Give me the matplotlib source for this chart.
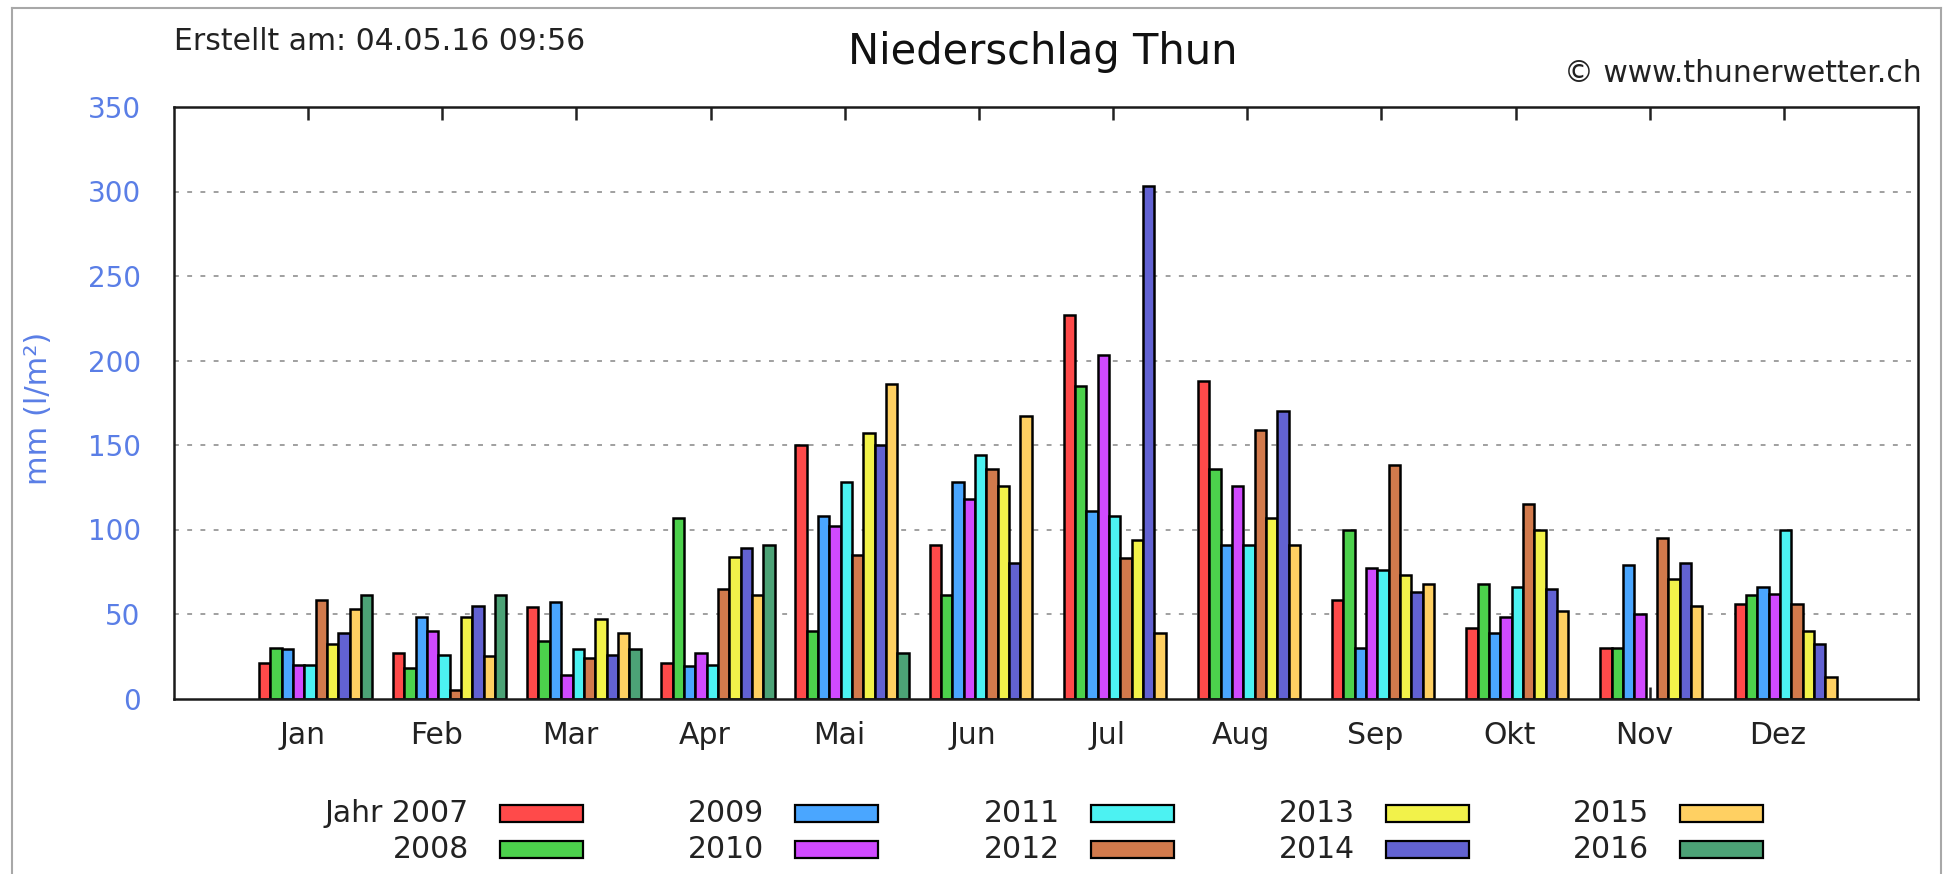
import numpy as np
import matplotlib
matplotlib.use("Agg")
import matplotlib.pyplot as plt
from matplotlib.patches import Rectangle
from matplotlib.lines import Line2D
from matplotlib.transforms import ScaledTranslation

nan = np.nan

months = ['Jan', 'Feb', 'Mar', 'Apr', 'Mai', 'Jun', 'Jul', 'Aug', 'Sep', 'Okt', 'Nov', 'Dez']
years = ['2007', '2008', '2009', '2010', '2011', '2012', '2013', '2014', '2015', '2016']

# monthly precipitation in mm, one list per year
y2007 = [21, 27, 54, 21, 150, 91, 227, 188, 58, 42, 30, 56]
y2008 = [30, 18, 34, 107, 40, 61, 185, 136, 100, 68, 30, 61]
y2009 = [29, 48, 57, 19, 108, 128, 111, 91, 30, 39, 79, 66]
y2010 = [20, 40, 14, 27, 102, 118, 203, 126, 77, 48, 50, 62]
y2011 = [20, 26, 29, 20, 128, 144, 108, 91, 76, 66, nan, 100]
y2012 = [58, 5, 24, 65, 85, 136, 83, 159, 138, 115, 95, 56]
y2013 = [32, 48, 47, 84, 157, 126, 94, 107, 73, 100, 71, 40]
y2014 = [39, 55, 26, 89, 150, 80, 303, 170, 63, 65, 80, 32]
y2015 = [53, 25, 39, 61, 186, 167, 39, 91, 68, 52, 55, 13]
y2016 = [61, 61, 29, 91, 27, nan, nan, nan, nan, nan, nan, nan]

series = [y2007, y2008, y2009, y2010, y2011, y2012, y2013, y2014, y2015, y2016]
colors = ['#ff4a4a', '#4cd14c', '#4aa6ff', '#d04aff', '#4cf2f2',
          '#d27a4c', '#f2f24a', '#6262d2', '#ffd062', '#4ca276']

W, H = 1946, 874
fig = plt.figure(figsize=(W / 100, H / 100), dpi=100)
plt.rcParams['font.family'] = ['DejaVu Sans']

# axes box in pixels: left 174, right 1918, top 107, bottom 698
ax = fig.add_axes([174 / W, 1 - 698.5 / H, 1744 / W, 591.5 / H])

bw = 0.0845
x = np.arange(1, 13)
for i, (vals, c) in enumerate(zip(series, colors)):
    ax.bar(x + 0.055 + (i - 4.5) * bw, vals, width=bw, color=c,
           edgecolor='black', linewidth=1.8, zorder=3)

ax.set_xlim(0, 13)
ax.set_ylim(0, 350)
ax.set_xticks(x)
ax.set_xticklabels(months)
ax.set_yticks(np.arange(0, 351, 50))

blue = '#5a7ee6'
ax.tick_params(axis='x', direction='in', length=9, width=1.8, top=True,
               labelsize=21.5, pad=16, colors='#222222')
ax.tick_params(axis='y', length=0, labelsize=20, pad=24, labelcolor=blue)
shift = ScaledTranslation(-6 / 100, 0, fig.dpi_scale_trans)
for lab in ax.get_xticklabels():
    lab.set_transform(lab.get_transform() + shift)

ax.set_ylabel('mm (l/m²)', fontsize=22, color=blue)
ax.yaxis.set_label_coords((53 - 174) / 1744, 0.49)

for yv in range(50, 350, 50):
    ax.axhline(yv, color='#a0a0a0', linewidth=1.4, dashes=(2.5, 4.3), zorder=1)

for sp in ax.spines.values():
    sp.set_linewidth(1.8)
    sp.set_color('#1a1a1a')
    sp.set_zorder(5)

# header texts
fig.text(174 / W, 1 - 50 / H, 'Erstellt am: 04.05.16 09:56', fontsize=21.5,
         ha='left', va='baseline', color='#222222')
fig.text(1043 / W, 1 - 64 / H, 'Niederschlag Thun', fontsize=30,
         ha='center', va='baseline', color='#111111')
fig.text(1922 / W, 1 - 82 / H, '© www.thunerwetter.ch', fontsize=21.5,
         ha='right', va='baseline', color='#222222')

# legend: 5 columns x 2 rows, label left of the colour box
col_left = [500, 795, 1091, 1386, 1680]
row_mid = [813, 849]
for i, (yr, c) in enumerate(zip(years, colors)):
    cx = col_left[i // 2]
    cy = row_mid[i % 2]
    fig.patches.append(Rectangle((cx / W, 1 - (cy + 8.5) / H), 83 / W, 17 / H,
                                 facecolor=c, edgecolor='black', linewidth=1.6,
                                 transform=fig.transFigure, figure=fig))
    label = 'Jahr ' + yr if i == 0 else yr
    fig.text((cx - 31) / W, 1 - cy / H, label, fontsize=21.5, ha='right',
             va='center', color='#222222')

# outer frame (left, top, right)
frame = dict(color='#a8a8a8', linewidth=1.5, transform=fig.transFigure)
fig.lines.append(Line2D([12 / W, 12 / W], [0, 1 - 8 / H], **frame))
fig.lines.append(Line2D([12 / W, 1941 / W], [1 - 8 / H, 1 - 8 / H], **frame))
fig.lines.append(Line2D([1941 / W, 1941 / W], [0, 1 - 8 / H], **frame))

fig.savefig('out.png', dpi=100)
